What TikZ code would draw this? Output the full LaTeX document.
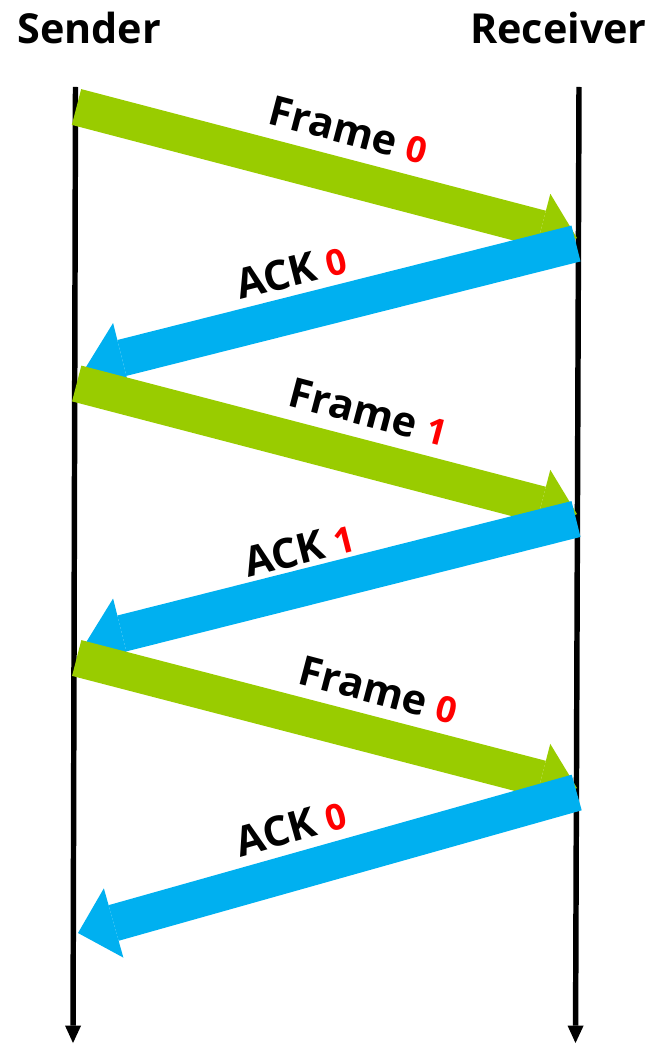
\documentclass[tikz,border=0pt]{standalone}
\usepackage{fontspec}
\setmainfont{Open Sans}
\usetikzlibrary{arrows.meta}
\definecolor{framegreen}{HTML}{99CC00}
\definecolor{ackblue}{HTML}{00B0F0}
\definecolor{numred}{HTML}{FF0000}
\newcommand{\dig}[1]{{\color{numred}\fontsize{27}{27}\selectfont #1}}
\tikzset{
  timeline/.style={line width=4.1pt, black, -{Triangle[length=13pt,width=12pt,line width=0pt]}},
  fatarrow/.style={line width=27.75pt, line cap=butt, -{Triangle[length=27.75pt,width=54pt,line width=0pt]}},
  framearrow/.style={fatarrow, draw=framegreen, color=framegreen},
  ackarrow/.style={fatarrow, draw=ackblue, color=ackblue},
  title/.style={font=\fontsize{31}{31}\selectfont\bfseries, inner sep=0pt},
  msglabel/.style={font=\fontsize{31}{31}\selectfont\bfseries, inner sep=0pt, anchor=base}
}
\begin{document}
\begin{tikzpicture}[x=0.75pt,y=-0.75pt]
\useasboundingbox (0,0) rectangle (654,1044);
% titles
\node[title, anchor=base west] (sender) at (17,44) {Sender};
\node[title, anchor=base east] (receiver) at (647,44) {Receiver};
% timelines
\coordinate (ls) at (75.5,87);
\coordinate (le) at (73,1043);
\coordinate (rs) at (579,87);
\coordinate (re) at (575.5,1043);
\draw[timeline] (ls) -- (le);
\draw[timeline] (rs) -- (re);
% message end points
\coordinate (f0s) at (76.5,107);   \coordinate (f0t) at (577,238);
\coordinate (a0s) at (576,243.5);  \coordinate (a0t) at (86,367);
\coordinate (f1s) at (76.7,383.5); \coordinate (f1t) at (577,514);
\coordinate (a1s) at (576,519);    \coordinate (a1t) at (86,642.5);
\coordinate (f2s) at (76.7,658);   \coordinate (f2t) at (577,788);
\coordinate (a2s) at (576.7,792.5);\coordinate (a2t) at (78,933);
% messages
\draw[framearrow] (f0s) -- (f0t);
\draw[ackarrow]   (a0s) -- (a0t);
\draw[framearrow] (f1s) -- (f1t);
\draw[ackarrow]   (a1s) -- (a1t);
\draw[framearrow] (f2s) -- (f2t);
\draw[ackarrow]   (a2s) -- (a2t);
% labels
\node[msglabel, rotate=-14.7] (l0) at (345,144) {Frame \dig{0}};
\node[msglabel, rotate=14.2]  (l1) at (295,286) {ACK \dig{0}};
\node[msglabel, rotate=-14.7] (l2) at (365,426) {Frame \dig{1}};
\node[msglabel, rotate=14.2]  (l3) at (303,564) {ACK \dig{1}};
\node[msglabel, rotate=-14.7] (l4) at (375,704) {Frame \dig{0}};
\node[msglabel, rotate=15.7]  (l5) at (295,842) {ACK \dig{0}};
\end{tikzpicture}
\end{document}
